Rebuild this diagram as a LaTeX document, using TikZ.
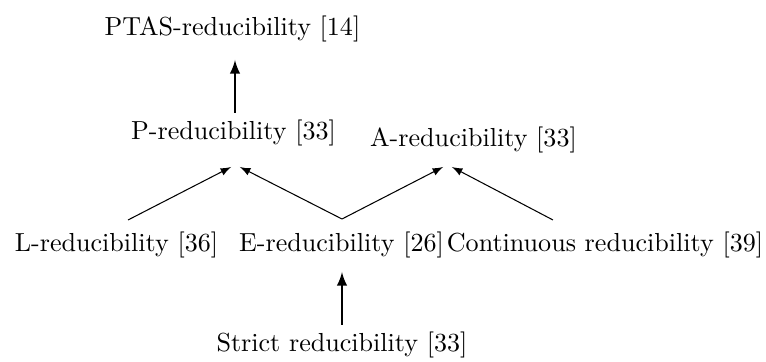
\documentclass[tikz,border=0pt]{standalone}
\begin{document}
\begin{tikzpicture}[x=0.01347cm,y=-0.01347cm,every node/.style={inner sep=0pt},thin arrow/.style={-latex,line width=0.4pt},thick arrow/.style={-latex,line width=0.8pt}]
\useasboundingbox (0,0) rectangle (766,362);
\node (ptas) at (232.5,29) {PTAS-reducibility [14]};
\node (pred) at (233.5,133) {P-reducibility [33]};
\node (ared) at (473.5,140) {A-reducibility [33]};
\node (lred) at (116.5,245) {L-reducibility [36]};
\node (ered) at (341.5,245) {E-reducibility [26]};
\node (cred) at (605,245) {Continuous reducibility [39]};
\node (sred) at (342,345) {Strict reducibility [33]};
\coordinate (ptop) at (235,60);
\coordinate (pbot) at (235,113);
\coordinate (etop) at (342,272);
\coordinate (ebot) at (342,325);
\coordinate (ptip) at (235.5,167);
\coordinate (atip) at (447.5,167);
\coordinate (lfoot) at (128,220);
\coordinate (efoot) at (342,219);
\coordinate (cfoot) at (553,220);
\draw[thick arrow] (pbot) -- (ptop);
\draw[thick arrow] (ebot) -- (etop);
\draw[thin arrow] (lfoot) -- ([xshift=-1.7pt]ptip);
\draw[thin arrow] (efoot) -- ([xshift=1.7pt]ptip);
\draw[thin arrow] (efoot) -- ([xshift=-1.7pt]atip);
\draw[thin arrow] (cfoot) -- ([xshift=1.7pt]atip);
\end{tikzpicture}
\end{document}
